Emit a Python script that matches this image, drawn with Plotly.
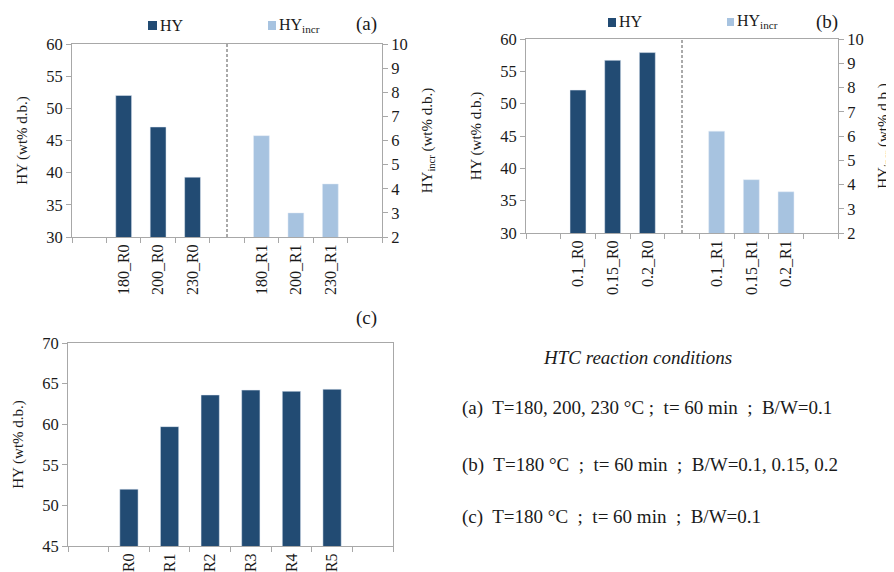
import plotly.graph_objects as go

# ---------------- data ----------------
cats_a = [" ", "180_R0", "200_R0", "230_R0", "  ", "180_R1", "200_R1", "230_R1", "   "]
hy_a = [None, 52.0, 47.1, 39.3, None, None, None, None, None]
hyincr_a = [None, None, None, None, None, 6.2, 3.0, 4.2, None]

cats_b = [" ", "0.1_R0", "0.15_R0", "0.2_R0", "  ", "0.1_R1", "0.15_R1", "0.2_R1", "   "]
hy_b = [None, 52.1, 56.7, 57.9, None, None, None, None, None]
hyincr_b = [None, None, None, None, None, 6.2, 4.2, 3.7, None]

cats_c = [" ", "R0", "R1", "R2", "R3", "R4", "R5", "  "]
hy_c = [None, 52.0, 59.7, 63.6, 64.2, 64.05, 64.3, None]

series_names = ["HY", "HY<sub>incr</sub>"]
panel_labels = ["(a)", "(b)", "(c)"]
conditions_title = "HTC reaction conditions"
conditions = [
    "(a)  T=180, 200, 230 °C ;  t= 60 min  ;  B/W=0.1",
    "(b)  T=180 °C  ;  t= 60 min  ;  B/W=0.1, 0.15, 0.2",
    "(c)  T=180 °C  ;  t= 60 min  ;  B/W=0.1",
]

DARK = "#224b73"
LIGHT = "#a7c3e0"
AXC = "#a8a8a8"
TXT = "#1a1a1a"
FONT = "Liberation Serif, Times New Roman, serif"
OFF = 8  # page body margin
W, H = 894 - OFF, 572 - OFF

def px(x):
    return (x - OFF) / W

def py(y):
    return 1 - (y - OFF) / H

fig = go.Figure()

# panel a
fig.add_trace(go.Bar(x=cats_a, y=hy_a, name=series_names[0], marker_color=DARK, width=0.46,
                     xaxis="x", yaxis="y", showlegend=False))
fig.add_trace(go.Bar(x=cats_a, y=hyincr_a, name=series_names[1], marker_color=LIGHT, width=0.46,
                     xaxis="x", yaxis="y2", showlegend=False))
# panel b
fig.add_trace(go.Bar(x=cats_b, y=hy_b, name=series_names[0], marker_color=DARK, width=0.46,
                     xaxis="x2", yaxis="y3", showlegend=False))
fig.add_trace(go.Bar(x=cats_b, y=hyincr_b, name=series_names[1], marker_color=LIGHT, width=0.46,
                     xaxis="x2", yaxis="y4", showlegend=False))
# panel c
fig.add_trace(go.Bar(x=cats_c, y=hy_c, name=series_names[0], marker_color=DARK, width=0.45,
                     xaxis="x3", yaxis="y5", showlegend=False))

tickfont = dict(family=FONT, size=16.5, color=TXT)
xtickfont = dict(family=FONT, size=16, color=TXT)
titlefont = dict(family=FONT, size=15, color=TXT)

def xax(domain, anchor, cats):
    return dict(domain=domain, anchor=anchor, type="category", categoryorder="array",
                categoryarray=cats, tickson="boundaries", ticks="outside", ticklen=5,
                tickcolor=AXC, showline=True, linecolor=AXC, linewidth=1, mirror=True,
                tickangle=-90, tickfont=xtickfont, showgrid=False, zeroline=False,
                automargin=False, fixedrange=True)

def yax(domain, anchor, rng, dtick, title, side="left", overlaying=None, standoff=10, mirror=False):
    d = dict(domain=domain, anchor=anchor, range=rng, dtick=dtick, side=side,
             ticks="outside", ticklen=5, tickcolor=AXC, showline=True, linecolor=AXC,
             linewidth=1, tickfont=tickfont, showgrid=False, zeroline=False,
             automargin=False, fixedrange=True, mirror=mirror,
             title=dict(text=title, font=titlefont, standoff=standoff))
    if overlaying:
        d["overlaying"] = overlaying
    return d

xa = [px(72), px(382)]
ya = [py(237), py(44)]
xb = [px(526), px(838)]
yb = [py(233), py(39)]
xc = [px(68), px(393)]
yc = [py(546), py(343)]

fig.update_layout(
    width=W, height=H,
    margin=dict(l=0, r=0, t=0, b=0, autoexpand=False),
    paper_bgcolor="white", plot_bgcolor="white",
    barmode="overlay",
    showlegend=False,
    font=dict(family=FONT, color=TXT),
    xaxis=xax(xa, "y", cats_a),
    yaxis=yax(ya, "x", [30, 60], 5, "HY (wt% d.b.)", standoff=14),
    yaxis2=yax(ya, "x", [2, 10], 1, "HY<sub>incr</sub> (wt% d.b.)", side="right", overlaying="y", standoff=14),
    xaxis2=xax(xb, "y3", cats_b),
    yaxis3=yax(yb, "x2", [30, 60], 5, "HY (wt% d.b.)", standoff=14),
    yaxis4=yax(yb, "x2", [2, 10], 1, "HY<sub>incr</sub> (wt% d.b.)", side="right", overlaying="y3", standoff=14),
    xaxis3=xax(xc, "y5", cats_c),
    yaxis5=yax(yc, "x3", [45, 70], 5, "HY (wt% d.b.)", standoff=14, mirror=True),
)

# dashed separators
for xr, yr in [("x", "y domain"), ("x2", "y3 domain")]:
    fig.add_shape(type="line", xref=xr, yref=yr, x0=4, x1=4, y0=0, y1=1,
                  line=dict(color="#555", width=1, dash="3px,2px"))

# legend-like keys (squares + labels) for panels a and b
legend_items = [
    # (square x0, x1, y0, y1, color, label, text x, text y)
    (148, 157, 21, 30, DARK, series_names[0], 158, 26),
    (268, 276, 21, 30, LIGHT, series_names[1], 277, 26),
    (608, 616, 18, 27, DARK, series_names[0], 617, 22),
    (727, 734, 18, 26, LIGHT, series_names[1], 735, 22),
]
for x0, x1, y0, y1, col, lab, tx, ty in legend_items:
    fig.add_shape(type="rect", xref="paper", yref="paper", x0=px(x0), x1=px(x1),
                  y0=py(y1), y1=py(y0), fillcolor=col, line=dict(width=0))
    fig.add_annotation(text=lab, x=px(tx), y=py(ty), xref="paper", yref="paper",
                       xanchor="left", yanchor="middle", showarrow=False,
                       font=dict(family=FONT, size=16, color=TXT))

# panel labels
for txt, x, y in zip(panel_labels, [366, 827, 366], [24, 22, 318]):
    fig.add_annotation(text=txt, x=px(x), y=py(y), xref="paper", yref="paper",
                       xanchor="center", yanchor="middle",
                       showarrow=False, font=dict(family=FONT, size=19, color=TXT))

# conditions text
fig.add_annotation(text="<i>" + conditions_title + "</i>", x=px(637), y=py(357),
                   xref="paper", yref="paper", xanchor="center", yanchor="middle",
                   showarrow=False, font=dict(family=FONT, size=19, color=TXT))
for txt, y in zip(conditions, [408, 465, 517]):
    fig.add_annotation(text=txt, x=px(460), y=py(y), xref="paper", yref="paper",
                       xanchor="left", yanchor="middle", showarrow=False,
                       font=dict(family=FONT, size=19, color=TXT))

fig.write_html("out.html")
